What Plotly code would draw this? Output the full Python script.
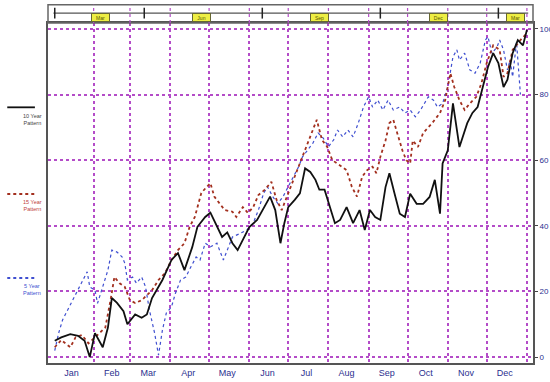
import pandas as pd
import plotly.graph_objects as go

base = pd.Timestamp("2021-01-01")

months = ["Jan", "Feb", "Mar", "Apr", "May", "Jun",
          "Jul", "Aug", "Sep", "Oct", "Nov", "Dec"]
y_ticks = [0, 20, 40, 60, 80, 100]

# black - 10 year pattern (day of year, value)
days_10 = [1, 6, 13, 19, 24, 28, 32, 38, 42, 45, 49, 54, 57, 63, 68, 72, 76, 79, 84, 91,
           96, 101, 107, 111, 117, 121, 126, 130, 134, 138, 142, 146, 151, 157, 161, 167,
           171, 175, 178, 181, 186, 190, 194, 198, 202, 205, 209, 213, 217, 221, 226, 231,
           236, 240, 244, 248, 252, 256, 259, 263, 267, 271, 275, 280, 285, 290, 294, 298,
           300, 304, 308, 313, 319, 323, 327, 331, 335, 339, 343, 347, 350, 354, 358, 362, 365]
vals_10 = [5, 6, 7, 6.5, 5, 0, 7.3, 3, 9, 18, 16.5, 14, 10, 13, 12, 13, 18, 20, 23.5, 29.6,
           31.7, 26.5, 33.5, 39.7, 42.7, 44, 39.6, 36.6, 38, 34.7, 32.6, 35.7, 39.6, 41.8, 44.8, 48.9,
           44.8, 34.7, 40.8, 45.7, 47.9, 49.9, 57.5, 56.4, 54, 51, 51, 45.7, 40.8, 41.8, 45.7, 40.8,
           44.8, 38.7, 44.8, 42.7, 41.8, 51.8, 56, 49.8, 43.7, 42.7, 49.8, 46.7, 46.7, 48.8, 54, 43.7,
           59, 63, 77.3, 64, 71.3, 74.4, 76.2, 82.3, 88.4, 92.6, 89.6, 82.3, 84.5, 92.6, 96.6, 95, 99.7]

# red - 15 year pattern
days_15 = [1, 6, 13, 17, 22, 27, 32, 36, 40, 44, 47, 51, 55, 59, 63, 68, 72, 76, 81, 86,
           91, 96, 101, 105, 109, 114, 118, 121, 124, 128, 132, 138, 141, 146, 150, 154, 158,
           163, 168, 172, 176, 180, 185, 190, 194, 198, 203, 207, 211, 215, 219, 222, 226,
           230, 234, 238, 242, 246, 249, 252, 256, 259, 262, 265, 269, 272, 275, 277, 281,
           285, 289, 292, 298, 302, 306, 309, 313, 317, 321, 326, 330, 334, 339, 344, 347,
           350, 354, 360, 365]
vals_15 = [3, 5.2, 3, 6, 6.7, 4.2, 6, 7.6, 9, 17.3, 24.4, 22.5, 21.4, 17.3, 16.5, 17.3, 18.9, 20.4, 23.5, 25.6,
           29.6, 32.6, 34.7, 39.7, 42.7, 50, 51.8, 53, 48.9, 46.7, 44.8, 44.3, 42.7, 45.7, 43.9, 45.7, 49.4,
           51, 53.4, 47.9, 44.8, 48.9, 54, 59.1, 63.1, 67.1, 72.3, 66.2, 64.1, 60, 59, 58, 57,
           51.9, 48.9, 55, 57, 58, 56, 61, 66, 71.3, 72.3, 68.3, 63, 60, 59, 66, 64,
           68.3, 70.1, 71.3, 74.4, 78.3, 86.5, 82.3, 78.3, 75.3, 77.3, 79.3, 83.5, 89.6, 95, 93.6, 85.4,
           86.5, 93.6, 96.6, 98.7]

# blue - 5 year pattern
days_5 = [1, 4, 7, 11, 15, 19, 23, 26, 28, 32, 34, 38, 42, 45, 49, 53, 55, 57, 61, 64,
          68, 71, 74, 78, 81, 84, 87, 91, 94, 98, 102, 106, 110, 113, 117, 121, 126, 131,
          135, 138, 144, 149, 154, 158, 162, 165, 169, 173, 177, 181, 185, 189, 192, 196,
          200, 204, 208, 212, 216, 219, 223, 227, 231, 235, 239, 243, 246, 250, 254, 258,
          262, 267, 271, 275, 279, 283, 286, 289, 293, 296, 300, 304, 308, 311, 313, 317,
          321, 325, 329, 333, 335, 338, 342, 344, 347, 350, 352, 354, 357, 360]
vals_5 = [2, 7.3, 11.3, 14.3, 17.4, 20.4, 23.5, 26, 21.4, 20.4, 16.4, 21.4, 26.5, 32.6, 32, 30.5, 28.6, 23.5, 24.4, 22.5,
          24.4, 21.4, 14.3, 7.3, 0.6, 8.2, 13.4, 15.3, 19.4, 23.5, 24.4, 27.5, 30.5, 29.6, 34.7, 33.6, 34.7, 29.6,
          33.6, 36.6, 37.7, 38.7, 40.8, 44.8, 49.9, 51.9, 48.9, 46.8, 48.9, 51.9, 55, 58, 61, 63.1,
          65.2, 68.3, 66.7, 64.1, 66.2, 69.2, 67.1, 69.2, 67.1, 71.3, 76.2, 79.3, 76.2, 78.3, 75.3, 78.3,
          75.3, 76.2, 74.4, 75.3, 73.2, 75.3, 77.3, 79.3, 78.3, 76.2, 77.3, 82.3, 91.5, 93.6, 90.5, 92.6,
          87.5, 86.5, 89.6, 96.6, 97.6, 92.6, 94.5, 96.6, 93.6, 87.5, 90.5, 85.4, 96, 80]

# contract strip on top
strip_labels = ["Mar", "Jun", "Sep", "Dec", "Mar"]
strip_label_days = [36, 114, 205, 297, 356]
strip_tick_days = [1, 70, 161, 252, 343]

legend_names = ["10 Year<br>Pattern", "15 Year<br>Pattern", "5 Year<br>Pattern"]


def to_dates(days):
    return [base + pd.Timedelta(days=d) for d in days]


grid_col = "#b44cc8"
navy = "#2b2f8f"

fig = go.Figure()
fig.add_trace(go.Scatter(x=to_dates(days_5), y=vals_5, mode="lines",
                         line=dict(color="#3f4fd0", width=1.2, dash="dot")))
fig.add_trace(go.Scatter(x=to_dates(days_15), y=vals_15, mode="lines",
                         line=dict(color="#a3301f", width=1.8, dash="dot")))
fig.add_trace(go.Scatter(x=to_dates(days_10), y=vals_10, mode="lines",
                         line=dict(color="#111111", width=1.8)))

mid_month = [base + pd.DateOffset(months=i, days=14) for i in range(12)]
month_starts = [base + pd.DateOffset(months=i) for i in range(1, 13)]

fig.update_xaxes(
    range=[base - pd.Timedelta(days=4.2), base + pd.Timedelta(days=369.7)],
    tickvals=mid_month, ticktext=months, ticks="", showgrid=False,
    tickfont=dict(size=9, color=navy),
    showline=True, mirror=True, linecolor="#555555", linewidth=2,
    minor=dict(tickvals=month_starts, showgrid=True, gridcolor=grid_col,
               griddash="dot", gridwidth=1.5, ticks=""),
    zeroline=False, automargin=False,
)
fig.update_yaxes(
    range=[-1.8, 101.8], tickvals=y_ticks, side="right",
    showgrid=True, gridcolor=grid_col, griddash="dot", gridwidth=1.5,
    ticks="outside", ticklen=3, tickcolor="#444444",
    tickfont=dict(size=8, color=navy),
    showline=True, mirror=True, linecolor="#555555", linewidth=2,
    zeroline=False, automargin=False,
)

shapes = []
# strip box and guide line
shapes.append(dict(type="rect", xref="paper", yref="paper", x0=0, x1=1, y0=1, y1=1.054,
                   line=dict(color="#666666", width=1.5)))
shapes.append(dict(type="line", xref="x", yref="paper",
                   x0=base, x1=base + pd.Timedelta(days=366), y0=1.029, y1=1.029,
                   line=dict(color="#555555", width=1.2)))
for d in month_starts:
    shapes.append(dict(type="line", xref="x", yref="paper", x0=d, x1=d, y0=1, y1=1.054,
                       line=dict(color=grid_col, width=1.2, dash="dot")))
for d in to_dates(strip_tick_days):
    shapes.append(dict(type="line", xref="x", yref="paper", x0=d, x1=d, y0=1.013, y1=1.045,
                       line=dict(color="#222222", width=1.5)))

annotations = []
for lab, d in zip(strip_labels, to_dates(strip_label_days)):
    annotations.append(dict(x=d, y=1.029, xref="x", yref="paper", text=lab, showarrow=False,
                            font=dict(size=5, color="#555500"), bgcolor="#eeee44",
                            bordercolor="#666633", borderwidth=1, borderpad=0,
                            width=17, height=7))

# left legend
leg_y = [0.752, 0.497, 0.25]
leg_col = ["#111111", "#a3301f", "#3f4fd0"]
leg_txt = ["#444444", "#c04040", "#3f4fd0"]
leg_dash = ["solid", "dot", "dot"]
for name, ly, lc, tc, ds in zip(legend_names, leg_y, leg_col, leg_txt, leg_dash):
    shapes.append(dict(type="line", xref="paper", yref="paper", x0=-0.084, x1=-0.027,
                       y0=ly, y1=ly, line=dict(color=lc, width=1.8, dash=ds)))
    annotations.append(dict(x=-0.055, y=ly - 0.01, xref="paper", yref="paper", text=name,
                            showarrow=False, yanchor="top", align="center",
                            font=dict(size=5.5, color=tc)))

fig.update_layout(
    width=550, height=382,
    margin=dict(l=48, r=17, t=23, b=19),
    paper_bgcolor="white", plot_bgcolor="white",
    showlegend=False, hovermode=False,
    font=dict(family="Liberation Sans, Arial"),
    shapes=shapes, annotations=annotations,
)

# drop the default page margin so the figure fills the window exactly
fig.write_html("out.html", config={"displayModeBar": False},
               post_script="document.body.style.margin='0';document.body.style.overflow='hidden';")
